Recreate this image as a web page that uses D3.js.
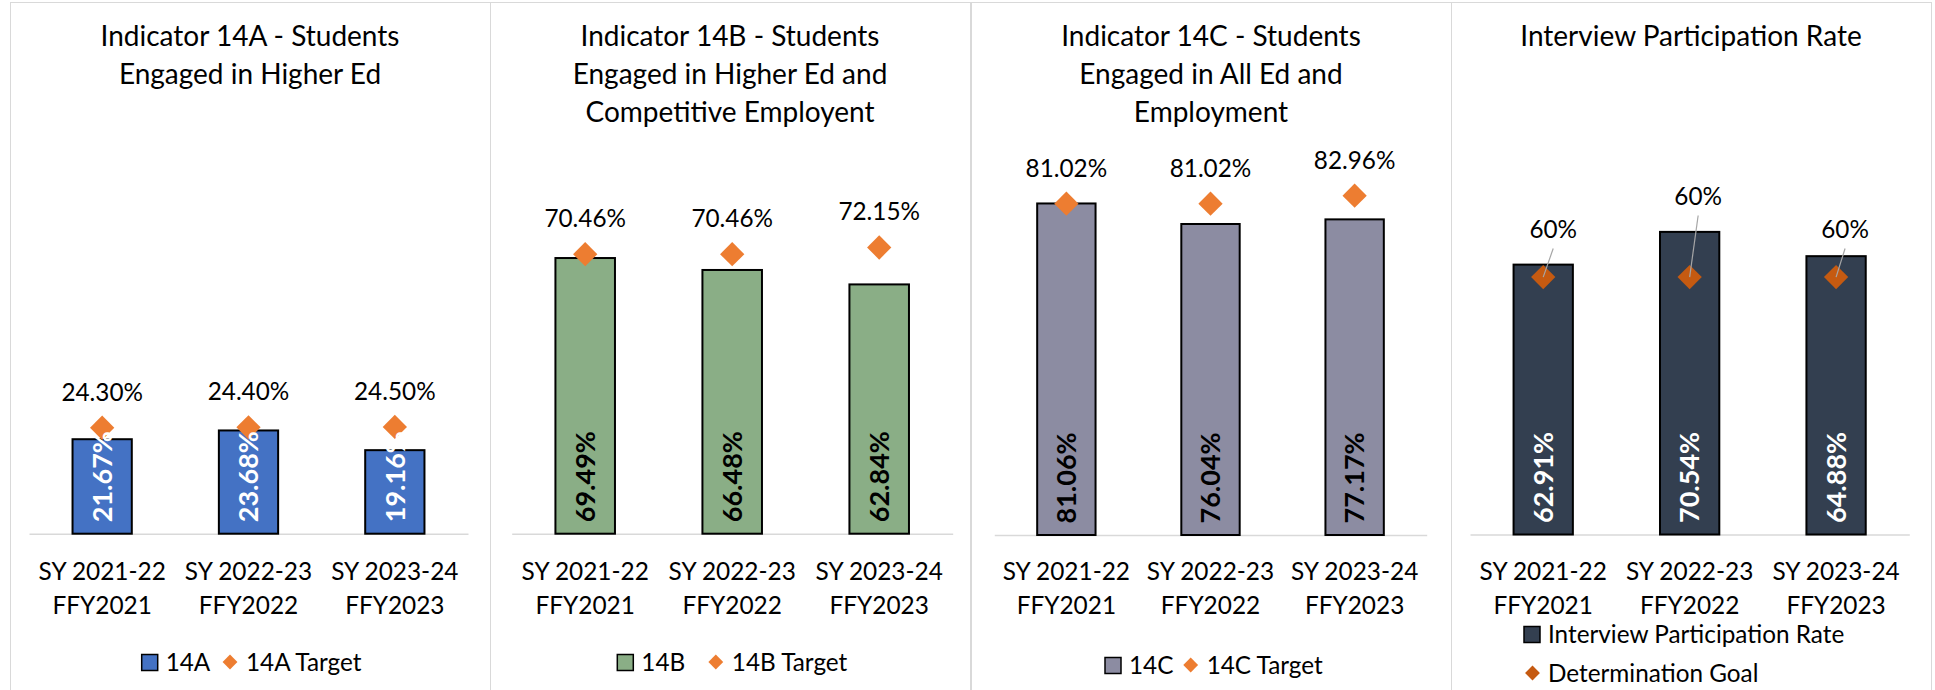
<!DOCTYPE html>
<html>
<head>
    <meta charset="utf-8">
    <title>Indicator 14 charts</title>
    <style>
        body { margin: 0; background: #ffffff; }
        svg text { font-family: Lato, "Open Sans", sans-serif; fill: #000; }
    </style>
</head>
<body>
<div id="my_dataviz"></div>
<script src="https://d3js.org/d3.v7.min.js"></script>
<script>

    // categories on the x axis (two lines each)
    const categories = [["SY 2021-22", "FFY2021"], ["SY 2022-23", "FFY2022"], ["SY 2023-24", "FFY2023"]];

    // chart titles (one array of lines per chart)
    const titles = [
        ["Indicator 14A - Students", "Engaged in Higher Ed"],
        ["Indicator 14B - Students", "Engaged in Higher Ed and", "Competitive Employent"],
        ["Indicator 14C - Students", "Engaged in All Ed and", "Employment"],
        ["Interview Participation Rate"]
    ];

    // series values (percent)
    const values14A = [21.67, 23.68, 19.16];
    const targets14A = [24.30, 24.40, 24.50];
    const values14B = [69.49, 66.48, 62.84];
    const targets14B = [70.46, 70.46, 72.15];
    const values14C = [81.06, 76.04, 77.17];
    const targets14C = [81.02, 81.02, 82.96];
    const participation = [62.91, 70.54, 64.88];
    const determinationGoal = [60, 60, 60];

    // legend names
    const barNames = ["14A", "14B", "14C", "Interview Participation Rate"];
    const targetNames = ["14A Target", "14B Target", "14C Target", "Determination Goal"];

    // layout of each of the four charts
    const panels = [
        {values: values14A, targets: targets14A, left: 10, x0: 29, x1: 468, base: 533.7, pxPer: 4.36,
            fill: "#4472C4", labelFill: "#ffffff", diamond: "#ED7D31", fmt: d => d.toFixed(2) + "%",
            legendX: 141.7, legendDiamondX: 230, legendY: 671},
        {values: values14B, targets: targets14B, left: 490, x0: 511.7, x1: 952.7, base: 533.7, pxPer: 3.967,
            fill: "#8AAE86", labelFill: "#000000", diamond: "#ED7D31", fmt: d => d.toFixed(2) + "%",
            legendX: 617.3, legendDiamondX: 715.8, legendY: 671},
        {values: values14C, targets: targets14C, left: 971, x0: 994.3, x1: 1426.7, base: 535, pxPer: 4.09,
            fill: "#8C8CA2", labelFill: "#000000", diamond: "#ED7D31", fmt: d => d.toFixed(2) + "%",
            legendX: 1105, legendDiamondX: 1190.7, legendY: 674},
        {values: participation, targets: determinationGoal, left: 1451, x0: 1470, x1: 1909.3, base: 534.5, pxPer: 4.29,
            fill: "#333F50", labelFill: "#ffffff", diamond: "#C55A11", fmt: d => d + "%",
            legendX: 1524, legendDiamondX: 1532.5, legendY: 643}
    ];

    // goal labels in the last chart sit away from the marker with a leader line
    const goalLabelOffsets = [[10, -39.6], [8.5, -72.6], [9, -39.6]];

    const svg = d3.select("#my_dataviz")
        .append("svg")
        .attr("width", 1935)
        .attr("height", 690);

    const diamondPath = size => d3.symbol().type(d3.symbolSquare).size(size)();

    panels.forEach(function (p, k) {
        const g = svg.append("g");

        // chart frame
        g.append("rect")
            .attr("x", p.left + 0.5).attr("y", 2.5)
            .attr("width", 480).attr("height", 720)
            .attr("fill", "none").attr("stroke", "#d9d9d9").attr("stroke-width", 1);

        // title
        g.append("text")
            .attr("text-anchor", "middle")
            .attr("font-size", 28)
            .selectAll("tspan")
            .data(titles[k])
            .join("tspan")
            .attr("x", p.left + 240)
            .attr("y", (d, i) => 46.2 + i * 37.8)
            .text(d => d);

        // scales
        const x = d3.scaleBand()
            .domain(d3.range(categories.length))
            .range([p.x0, p.x1])
            .paddingInner(0.595)
            .paddingOuter(0.2975);
        const y = d3.scaleLinear()
            .domain([0, 100])
            .range([p.base, p.base - 100 * p.pxPer]);
        const cx = i => x(i) + x.bandwidth() / 2;

        // x axis line
        const axis = g.append("g")
            .attr("transform", `translate(0, ${p.base})`)
            .call(d3.axisBottom(x).tickSize(0).tickFormat(""));
        axis.select(".domain").attr("stroke", "#d9d9d9").attr("stroke-width", 1.5);

        // category labels
        g.append("g")
            .selectAll("text")
            .data(categories)
            .join("text")
            .attr("text-anchor", "middle")
            .attr("font-size", 24.4)
            .each(function (d, i) {
                d3.select(this).selectAll("tspan")
                    .data(d)
                    .join("tspan")
                    .attr("x", cx(i))
                    .attr("y", (t, j) => 580 + j * 33.7)
                    .text(t => t);
            });

        // bars
        g.append("g")
            .selectAll("rect")
            .data(p.values)
            .join("rect")
            .attr("x", (d, i) => x(i))
            .attr("y", d => y(d))
            .attr("width", x.bandwidth())
            .attr("height", d => p.base - y(d))
            .attr("fill", p.fill)
            .attr("stroke", "#000")
            .attr("stroke-width", 2);

        // target markers
        g.append("g")
            .selectAll("path")
            .data(p.targets)
            .join("path")
            .attr("d", diamondPath(295))
            .attr("transform", (d, i) => `translate(${cx(i)}, ${y(d)}) rotate(45)`)
            .attr("fill", p.diamond);

        // target labels
        if (k < 3) {
            g.append("g")
                .selectAll("text")
                .data(p.targets)
                .join("text")
                .attr("text-anchor", "middle")
                .attr("font-size", 24.3)
                .attr("x", (d, i) => cx(i))
                .attr("y", d => y(d) - 27)
                .text(p.fmt);
        } else {
            g.append("g")
                .selectAll("line")
                .data(p.targets)
                .join("line")
                .attr("x1", (d, i) => cx(i) + goalLabelOffsets[i][0])
                .attr("y1", (d, i) => y(d) + goalLabelOffsets[i][1] + 11)
                .attr("x2", (d, i) => cx(i))
                .attr("y2", d => y(d))
                .attr("stroke", "#a6a6a6")
                .attr("stroke-width", 1.2);
            g.append("g")
                .selectAll("text")
                .data(p.targets)
                .join("text")
                .attr("text-anchor", "middle")
                .attr("font-size", 24.3)
                .attr("x", (d, i) => cx(i) + goalLabelOffsets[i][0])
                .attr("y", (d, i) => y(d) + goalLabelOffsets[i][1])
                .text(p.fmt);
        }

        // value labels inside the bars, rotated
        g.append("g")
            .selectAll("text")
            .data(p.values)
            .join("text")
            .attr("transform", (d, i) => `translate(${cx(i)}, ${p.base - 11.5}) rotate(-90)`)
            .attr("dy", "0.36em")
            .attr("font-size", 27)
            .attr("font-weight", "bold")
            .style("fill", p.labelFill)
            .text(d => d.toFixed(2) + "%");

        // legend
        const leg = g.append("g");
        leg.append("rect")
            .attr("x", p.legendX).attr("y", p.legendY - 16.5)
            .attr("width", 16).attr("height", 16)
            .attr("fill", p.fill).attr("stroke", "#000").attr("stroke-width", 1.5);
        leg.append("text")
            .attr("x", p.legendX + 24)
            .attr("y", p.legendY)
            .attr("font-size", 24.3)
            .text(barNames[k]);
        const dy = k < 3 ? p.legendY - 9 : p.legendY + 30;
        leg.append("path")
            .attr("d", diamondPath(110))
            .attr("transform", `translate(${p.legendDiamondX}, ${dy}) rotate(45)`)
            .attr("fill", p.diamond);
        leg.append("text")
            .attr("x", k < 3 ? p.legendDiamondX + 16 : p.legendX + 24)
            .attr("y", k < 3 ? p.legendY : p.legendY + 39)
            .attr("font-size", 24.3)
            .text(targetNames[k]);
    });
</script>
</body>
</html>
